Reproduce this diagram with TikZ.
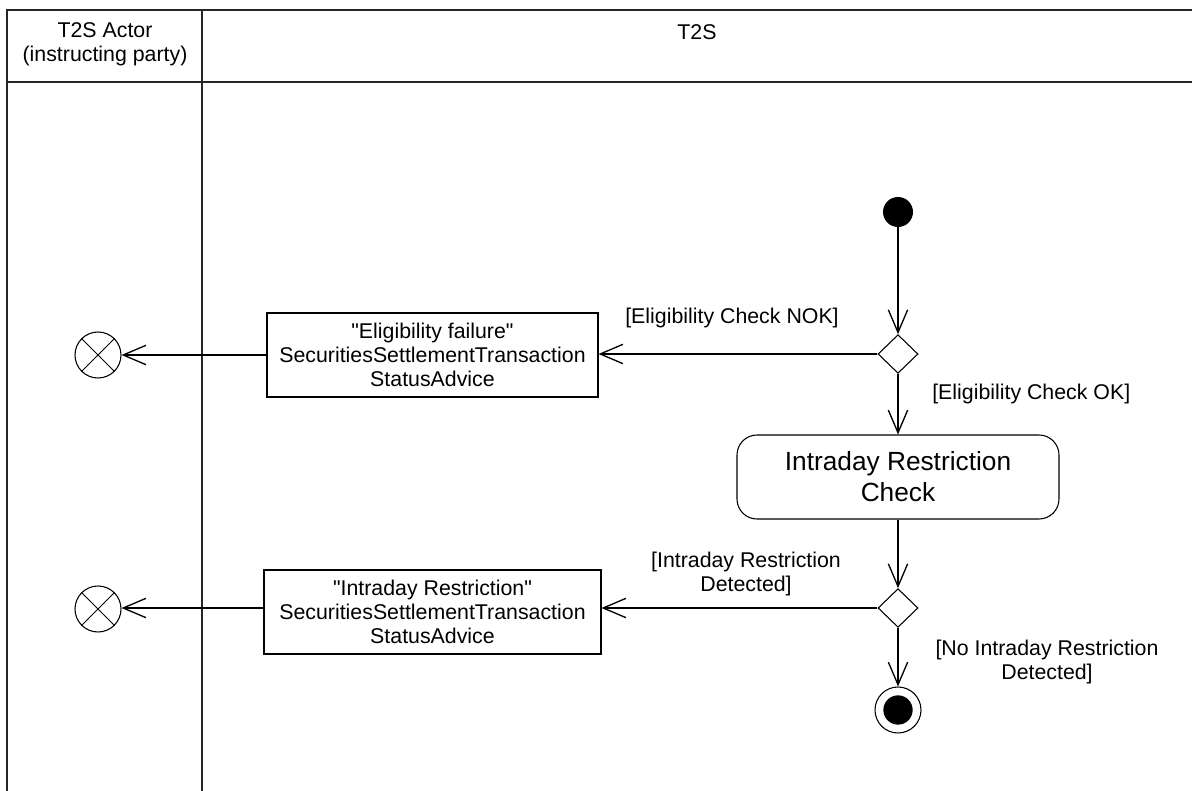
\documentclass[tikz,border=0pt]{standalone}
\usepackage{fontspec}
\setmainfont{Liberation Sans}
\usetikzlibrary{arrows.meta,shapes.geometric}
\begin{document}
\begin{tikzpicture}[x=0.75pt,y=-0.75pt,
  every node/.style={font=\fontsize{16}{17.8}\selectfont, align=center, inner sep=0pt},
  lane/.style={line width=0.9pt, draw=black!85},
  flow/.style={line width=1pt, -{Straight Barb[length=17pt,width=14.5pt,line width=1pt]}},
  msgbox/.style={draw, line width=0.8pt, rectangle},
  actbox/.style={draw, line width=0.8pt, rounded corners=15pt, font=\fontsize{19.7}{23.2}\selectfont},
  decision/.style={draw, line width=0.8pt, diamond, minimum width=30pt, minimum height=29pt},
  initnode/.style={circle, fill=black, minimum size=22.5pt},
  flowfinal/.style={circle, draw, line width=0.8pt, minimum size=34.5pt},
  label/.style={font=\fontsize{16}{18}\selectfont}
]
\useasboundingbox (0,0) rectangle (1192,791);
% swimlanes
\draw[lane] (7,791) -- (7,10) -- (1192,10);
\draw[lane] (7,82) -- (1192,82);
\draw[lane] (202,10) -- (202,791);
\node[font=\fontsize{16}{18}\selectfont] (h1) at (105,44) {T2S Actor\\(instructing party)};
\node (h2) at (697,32) {T2S};

% nodes
\node[initnode] (start) at (898,212) {};
\node[decision] (d1) at (898,354) {};
\node[msgbox, minimum width=248.25pt, minimum height=63pt] (m1) at (432.5,355) {\textquotedbl Eligibility failure\textquotedbl\\SecuritiesSettlementTransaction\\StatusAdvice};
\node[flowfinal] (ff1) at (98,355) {};
\draw[line width=0.6pt] (ff1.45) -- (ff1.225) (ff1.135) -- (ff1.315);

\node[actbox, minimum width=241.5pt, minimum height=63pt] (act) at (898,477) {Intraday Restriction\\Check};
\node[decision] (d2) at (898,608) {};
\node[msgbox, minimum width=252.75pt, minimum height=63pt] (m2) at (432.5,612) {\textquotedbl Intraday Restriction\textquotedbl\\SecuritiesSettlementTransaction\\StatusAdvice};
\node[flowfinal] (ff2) at (98,609) {};
\draw[line width=0.6pt] (ff2.45) -- (ff2.225) (ff2.135) -- (ff2.315);

\node[circle, draw, line width=0.8pt, minimum size=34.5pt] (fin) at (898,710) {};
\node[circle, fill=black, minimum size=22pt] (fininner) at (898,710) {};

% connectors
\draw[flow] (start) -- (d1);
\draw[flow] (d1) -- (d1 -| m1.east);
\draw[flow] (m1.west) -- (ff1);
\draw[flow] (d1) -- (act);
\draw[flow] (act) -- (d2);
\draw[flow] (d2) -- (d2 -| m2.east);
\draw[flow] (m2.west |- d2) -- (ff2.east |- d2);
\draw[flow] (d2) -- (fin);

% labels
\node[label] (l1) at (732,318) {[Eligibility Check NOK]};
\node[label, anchor=west] (l2) at (932,394) {[Eligibility Check OK]};
\node[label] (l3) at (746,574) {[Intraday Restriction\\Detected]};
\node[label] (l4) at (1047,662) {[No Intraday Restriction\\Detected]};
\end{tikzpicture}
\end{document}
